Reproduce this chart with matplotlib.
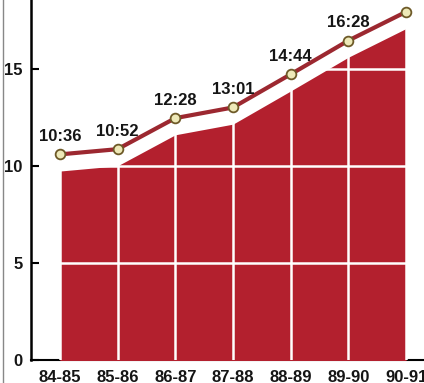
import matplotlib.pyplot as plt
import matplotlib.transforms as mtransforms
from matplotlib.lines import Line2D
from matplotlib import font_manager

# seasons and average hours (h:mm labels)
seasons = ['84-85', '85-86', '86-87', '87-88', '88-89', '89-90', '90-91']
hours = [10.6, 10.87, 12.47, 13.02, 14.73, 16.47, 17.95]
point_labels = ['10:36', '10:52', '12:28', '13:01', '14:44', '16:28', '']
y_ticks = [0, 5, 10, 15]

names = {f.name for f in font_manager.fontManager.ttflist}
print(sorted(n for n in names if 'Liberation' in n or 'Condensed' in n or 'Narrow' in n))
narrow = 'Liberation Sans Narrow' in names
plt.rcParams['font.family'] = (['Liberation Sans Narrow'] if narrow else []) + ['Liberation Sans', 'DejaVu Sans']
fs = 14 if narrow else 12

fig = plt.figure(figsize=(4.24, 3.83), dpi=100)
ax = fig.add_axes([31 / 424, 23 / 383, 1 - 31 / 424, 1 - 23 / 383])
x = list(range(len(seasons)))

# red area sits a bit below the line, leaving a white band
shifted = mtransforms.offset_copy(ax.transData, fig=fig, x=0, y=-12, units='points')
ax.fill_between(x, 0, hours, color='#b3202e', lw=0, transform=shifted, zorder=1)

ax.plot(x, hours, color='#9c2830', lw=3, zorder=3, solid_capstyle='round')
ax.plot(x, hours, 'o', ms=7, mfc='#eee9b8', mec='#6e5a28', mew=1.3, zorder=4)

for xi, h, lab in zip(x, hours, point_labels):
    if lab:
        ax.annotate(lab, (xi, h), xytext=(0, 13), textcoords='offset points',
                    ha='center', va='center', fontsize=fs, fontweight='bold',
                    color='#151515', zorder=5)

ax.set_xlim(-0.5, 6.31)
ax.set_ylim(0, 18.56)
ax.set_xticks(x)
ax.set_xticklabels(seasons, fontsize=fs, fontweight='bold', color='#151515')
ax.set_yticks(y_ticks)
ax.set_yticklabels([str(t) for t in y_ticks], fontsize=fs, fontweight='bold', color='#151515')
ax.tick_params(axis='x', length=0, pad=7)
ax.tick_params(axis='y', direction='in', length=6, width=1.5, pad=6)

ax.grid(True, color='white', lw=1.8)
ax.yaxis.get_gridlines()[0].set_visible(False)

for side in ['top', 'right']:
    ax.spines[side].set_visible(False)
ax.spines['left'].set_linewidth(1.8)
ax.spines['bottom'].set_linewidth(1.5)
ax.spines['bottom'].set_zorder(0.5)

# thin border line at the far left
fig.add_artist(Line2D([3 / 424, 3 / 424], [0, 1], color='#888888', lw=1))

fig.savefig('out.png', dpi=100)
